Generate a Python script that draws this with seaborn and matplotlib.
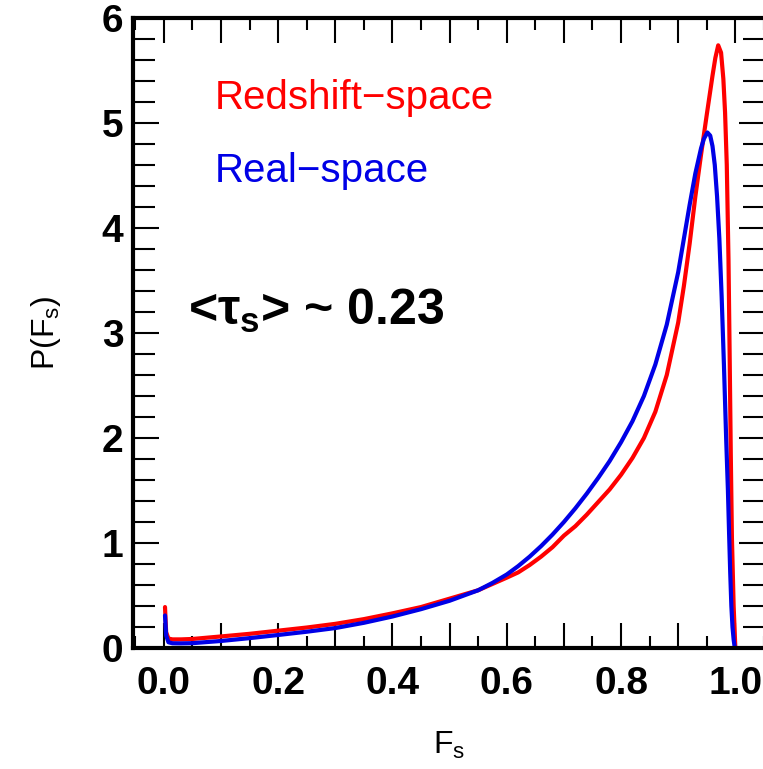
import matplotlib
matplotlib.use("Agg")
import matplotlib.pyplot as plt
from matplotlib.ticker import FixedLocator, MultipleLocator, FuncFormatter
import seaborn as sns
import pandas as pd

# flux PDF, redshift-space vs real-space
f_red = [0.002, 0.004, 0.008, 0.015, 0.03, 0.05, 0.1, 0.15, 0.2, 0.25,
         0.3, 0.35, 0.4, 0.45, 0.5, 0.55, 0.6, 0.62, 0.64, 0.66,
         0.68, 0.70, 0.72, 0.74, 0.76, 0.78, 0.80, 0.82, 0.84, 0.86,
         0.88, 0.90, 0.91, 0.92, 0.93, 0.94, 0.95, 0.96, 0.965, 0.970,
         0.975, 0.979, 0.982, 0.985, 0.988, 0.990, 0.992, 0.994, 0.997, 1.0]
p_red = [0.39, 0.15, 0.09, 0.082, 0.082, 0.086, 0.11, 0.135, 0.165, 0.195,
         0.23, 0.275, 0.33, 0.39, 0.47, 0.55, 0.67, 0.72, 0.79, 0.87,
         0.96, 1.07, 1.16, 1.27, 1.39, 1.51, 1.65, 1.81, 2.00, 2.25,
         2.60, 3.10, 3.45, 3.85, 4.30, 4.70, 5.08, 5.45, 5.62, 5.74,
         5.67, 5.42, 5.10, 4.60, 3.70, 2.80, 1.85, 1.05, 0.40, 0.0]

f_blue = [0.002, 0.004, 0.008, 0.015, 0.03, 0.05, 0.1, 0.15, 0.2, 0.25,
          0.3, 0.35, 0.4, 0.45, 0.5, 0.55, 0.575, 0.60, 0.62, 0.64,
          0.66, 0.68, 0.70, 0.72, 0.74, 0.76, 0.78, 0.80, 0.82, 0.84,
          0.86, 0.88, 0.90, 0.91, 0.92, 0.93, 0.94, 0.945, 0.951, 0.956,
          0.960, 0.964, 0.968, 0.972, 0.976, 0.980, 0.984, 0.987, 0.989, 0.991,
          0.993, 0.995, 0.997, 0.999]
p_blue = [0.31, 0.12, 0.055, 0.045, 0.044, 0.046, 0.067, 0.094, 0.124, 0.155,
          0.19, 0.24, 0.30, 0.37, 0.45, 0.55, 0.62, 0.70, 0.78, 0.87,
          0.97, 1.08, 1.20, 1.33, 1.47, 1.62, 1.78, 1.96, 2.16, 2.40,
          2.70, 3.08, 3.58, 3.90, 4.22, 4.52, 4.76, 4.85, 4.91, 4.88,
          4.78, 4.60, 4.30, 3.90, 3.35, 2.70, 1.98, 1.50, 1.10, 0.72,
          0.40, 0.20, 0.08, 0.0]

series_names = ["Redshift\u2212space", "Real\u2212space"]
RED = "#ff0000"
BLUE = "#0000e6"

sns.set_theme(style="ticks")
plt.rcParams["font.family"] = ["Liberation Sans", "DejaVu Sans"]
plt.rcParams["mathtext.fontset"] = "custom"
plt.rcParams["mathtext.rm"] = "Liberation Sans"
plt.rcParams["mathtext.it"] = "Liberation Sans:italic"
plt.rcParams["mathtext.bf"] = "Liberation Sans:bold"
plt.rcParams["text.color"] = "black"
plt.rcParams["axes.labelcolor"] = "black"
plt.rcParams["xtick.color"] = "black"
plt.rcParams["ytick.color"] = "black"

df_red = pd.DataFrame({"F": f_red, "P": p_red})
df_blue = pd.DataFrame({"F": f_blue, "P": p_blue})

fig = plt.figure(figsize=(7.63, 7.69), dpi=100)
ax = fig.add_axes([133 / 763, 121 / 769, 631.5 / 763, 630 / 769])

sns.lineplot(data=df_red, x="F", y="P", color=RED, lw=3, sort=False,
             estimator=None, ax=ax)
sns.lineplot(data=df_blue, x="F", y="P", color=BLUE, lw=3, sort=False,
             estimator=None, ax=ax)

ax.set_xlim(-0.054, 1.051)
ax.set_ylim(0, 6)

xmaj = [i / 10 for i in range(11)]
ax.xaxis.set_major_locator(FixedLocator(xmaj))
ax.xaxis.set_major_formatter(FuncFormatter(
    lambda v, pos: f"{v:.1f}" if round(v * 10) % 2 == 0 else ""))
ax.xaxis.set_minor_locator(MultipleLocator(0.05))
ax.yaxis.set_major_locator(MultipleLocator(1))
ax.yaxis.set_minor_locator(MultipleLocator(0.2))

ax.tick_params(which="both", direction="in", top=True, right=True,
               width=1.5, color="black", labelcolor="black")
ax.tick_params(axis="x", which="major", length=18, pad=13)
ax.tick_params(axis="x", which="minor", length=8.5)
ax.tick_params(axis="y", which="major", length=18.5, pad=7)
ax.tick_params(axis="y", which="minor", length=16)
for lab in ax.get_xticklabels() + ax.get_yticklabels():
    lab.set_fontsize(28)
    lab.set_fontweight("bold")

for sp in ax.spines.values():
    sp.set_linewidth(3)
    sp.set_color("black")

ax.set_xlabel(r"F$_\mathrm{s}$", fontsize=23, labelpad=20)
ax.set_ylabel(r"P(F$_\mathrm{s}$)", fontsize=23, labelpad=28)

ax.text(0.0895, 5.13, series_names[0], color=RED, fontsize=29,
        va="baseline", ha="left")
ax.text(0.0895, 4.44, series_names[1], color=BLUE, fontsize=29,
        va="baseline", ha="left")
ax.text(0.042, 3.08, r"<$\mathbf{\tau_s}$> ~ 0.23", fontsize=36,
        fontweight="bold", va="baseline", ha="left")

fig.savefig("out.png", dpi=100)
